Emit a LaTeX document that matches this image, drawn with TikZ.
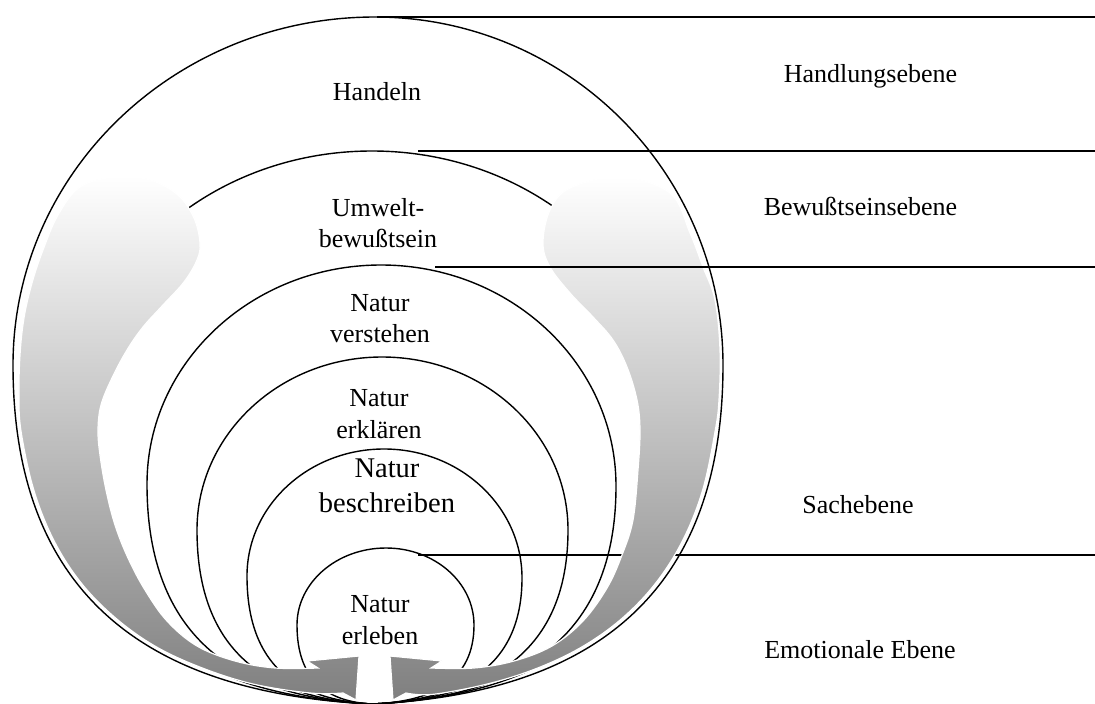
\documentclass[tikz,border=0pt]{standalone}
\usepackage{fontspec}
\setmainfont{Liberation Serif}
% Onion-shaped ring: pointed bottom at (372,704), left point (#1,#2),
% top point (#3,#4), right point (#5,#6).
\newcommand\eggshape[6]{%
  (372,704)
  .. controls ({372-0.6*(372-#1)},{704-0.03*(704-#2)}) and (#1,{#2+0.7*(704-#2)}) .. (#1,#2)
  .. controls (#1,{#2-0.5523*(#2-#4)}) and ({#3-0.5523*(#3-#1)},#4) .. (#3,#4)
  .. controls ({#3+0.5523*(#5-#3)},#4) and (#5,{#6-0.5523*(#6-#4)}) .. (#5,#6)
  .. controls (#5,{#6+0.7*(704-#6)}) and ({372+0.6*(#5-372)},{704-0.03*(704-#6)}) .. (372,704)}
\begin{document}
\begin{tikzpicture}[x=1pt,y=-1pt,
  ring/.style={draw=black,line width=1.4pt},
  level/.style={draw=black,line width=1.4pt},
  txt/.style={font=\fontsize{26}{31.5}\selectfont,align=center,inner sep=0pt},
  bigtxt/.style={font=\fontsize{28.5}{35}\selectfont,align=center,inner sep=0pt},
  flow/.style={top color=white,bottom color=gray,draw=white,line width=1.2pt}]
\useasboundingbox (0,0) rectangle (1095,704);

% level separator hidden under the flow band
\coordinate (s4) at (418,555);
\coordinate (s4e) at (1095,555);
\draw[level] (s4) -- (s4e);

% awareness ring, mostly covered by the flow bands
\draw[ring] \eggshape{74}{420}{372}{151}{670}{420};

% inner rings
\draw[ring] \eggshape{147}{484}{381}{265}{616}{486};
\draw[ring] \eggshape{197}{530}{382}{357}{568}{530};
\draw[ring] \eggshape{247}{576}{384}{449}{522}{578};
\draw[ring] \eggshape{297}{625}{386}{548}{474}{625};

% left flow band with arrow head
\path[flow] plot[smooth,tension=0.6] coordinates {
  (318,668) (275,668) (235,661) (197,646) (167,621) (145,590) (128,558)
  (115,525) (106,490) (100,455) (98,430) (101,405) (112,378) (127,350)
  (143,327) (163,305) (184,282) (197,260) (200,243) (194,218) (178,195)
  (150,180) (115,177) (80,187) (58,215) (43,250) (32,283) (24,318)
  (20,355) (19,395) (21,431) (33.5,489) (53.4,539.5) (80.4,582)
  (114.4,617) (154.3,645.7) (200.5,667.3) (253,684) (310,693) (343,693)}
  -- (356,700) -- (359,656) -- (307,661) -- cycle;

% right flow band with arrow head
\path[flow] plot[smooth,tension=0.6] coordinates {
  (431,668) (474,668) (514,661) (552,646) (583,621) (607,588) (622,555)
  (633,520) (638,470) (640,430) (637,400) (627,367) (613,340) (593,317)
  (570,293) (550,267) (543,243) (550,210) (570,188) (620,177) (670,193)
  (690,233) (703,267) (715,300) (720,350) (719,400) (715,431.8)
  (702.8,489.5) (683.2,539.4) (656.7,581.8) (623.6,617) (584.3,645.5)
  (539,667.5) (488.5,683.7) (432.5,694.4) (406,693)}
  -- (393,700) -- (390,656) -- (442,661) -- cycle;

% outer ring
\draw[ring] \eggshape{13}{365}{375}{17}{723}{365};

% remaining level separators
\coordinate (s1) at (377,17);
\coordinate (s1e) at (1095,17);
\coordinate (s2) at (418,151);
\coordinate (s2e) at (1095,151);
\coordinate (s3) at (435,267);
\coordinate (s3e) at (1095,267);
\draw[level] (s1) -- (s1e);
\draw[level] (s2) -- (s2e);
\draw[level] (s3) -- (s3e);

% ring labels
\node[txt,anchor=base] (handeln) at (377,100.7) {Handeln};
\node[txt] (umwelt) at (378,223) {Umwelt-\\bewußtsein};
\node[txt] (verstehen) at (380,318.5) {Natur\\verstehen};
\node[txt] (erklaeren) at (379,414) {Natur\\erklären};
\node[bigtxt] (beschreiben) at (387,486) {Natur\\beschreiben};
\node[txt] (erleben) at (380,620) {Natur\\erleben};

% level labels
\node[txt,anchor=base] (lh) at (870.5,82) {Handlungsebene};
\node[txt,anchor=base] (lb) at (860.5,215) {Bewußtseinsebene};
\node[txt,anchor=base] (ls) at (858,513) {Sachebene};
\node[txt,anchor=base] (le) at (860,658) {Emotionale Ebene};
\end{tikzpicture}
\end{document}
